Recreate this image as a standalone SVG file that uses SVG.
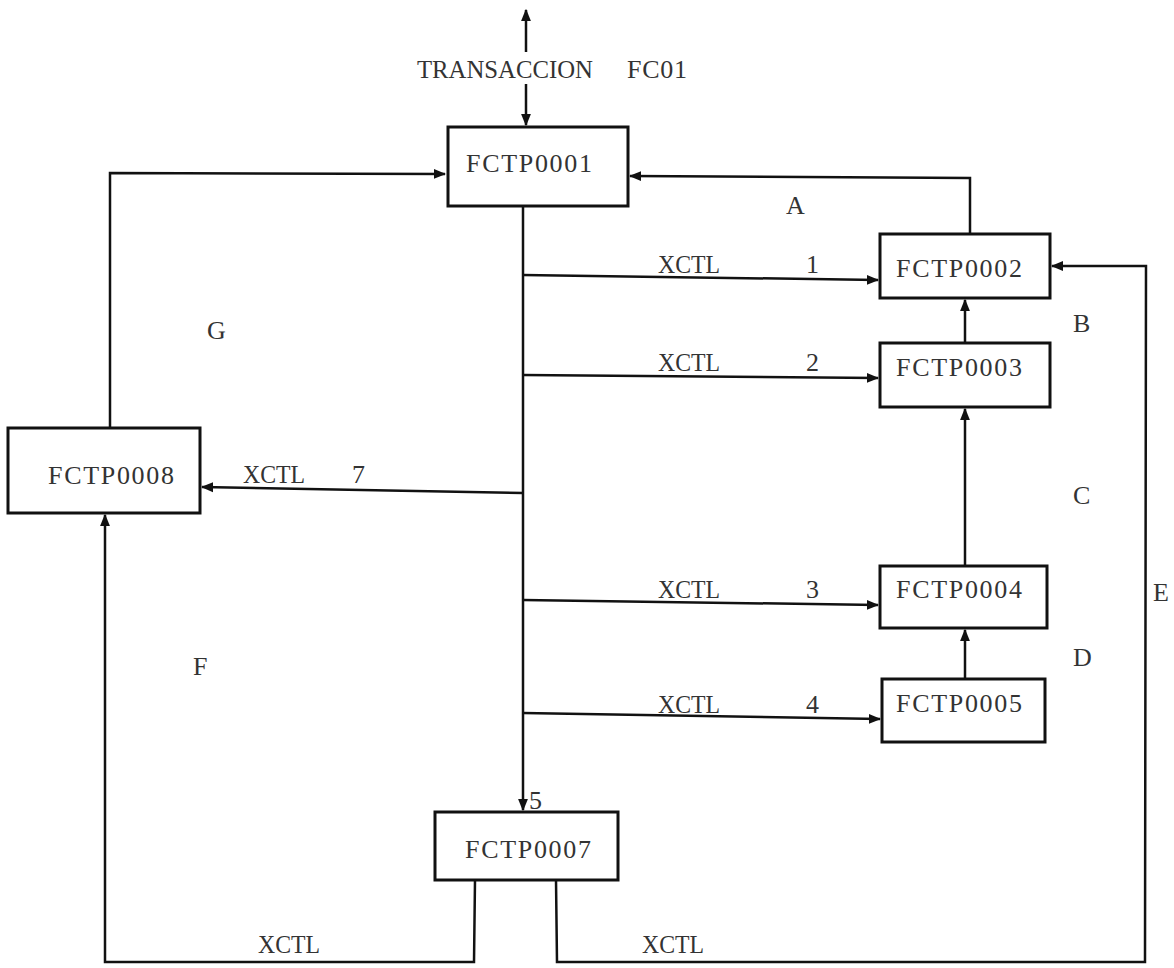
<svg xmlns="http://www.w3.org/2000/svg" width="1174" height="968" viewBox="0 0 1174 968">
<style>
text{font-family:"Liberation Serif","Times New Roman",serif;font-size:26px;fill:#333}
.x{font-size:25px}
.box{fill:#fff;stroke:#111;stroke-width:3}
.ln{fill:none;stroke:#111;stroke-width:2.5}
.arr{marker-end:url(#ah)}
</style>
<defs>
<marker id="ah" viewBox="0 0 10 10" refX="9" refY="5" markerWidth="5" markerHeight="5" orient="auto" markerUnits="strokeWidth">
<path d="M0,1 L10,5 L0,9 Z" fill="#111"/>
</marker>
</defs>
<rect width="1174" height="968" fill="#fff"/>
<g id="connectors">
<path class="ln arr" d="M526,52 L526,10"/>
<path class="ln arr" d="M526,84 L526,125"/>
<path class="ln arr" d="M523,207 L523,810"/>
<path class="ln arr" d="M523,275 L878,280"/>
<path class="ln arr" d="M523,375 L878,378"/>
<path class="ln arr" d="M523,493 L202,487"/>
<path class="ln arr" d="M523,600 L878,605"/>
<path class="ln arr" d="M523,713 L880,719"/>
<path class="ln arr" d="M970,234 L970,178 L630,176"/>
<path class="ln arr" d="M965,343 L965,300"/>
<path class="ln arr" d="M965,566 L965,409"/>
<path class="ln arr" d="M965,679 L965,630"/>
<path class="ln arr" d="M110,428 L110,173 L445,174"/>
<path class="ln arr" d="M475,880 L474,962 L105,962 L105,515"/>
<path class="ln arr" d="M556,880 L557,962 L1145,962 L1146,266 L1052,266"/>
</g>
<g id="n1"><rect class="box" x="448" y="127" width="180" height="79"/><text x="466" y="172" textLength="126" lengthAdjust="spacing">FCTP0001</text></g>
<g id="n2"><rect class="box" x="880" y="234" width="170" height="64"/><text x="896" y="277" textLength="126" lengthAdjust="spacing">FCTP0002</text></g>
<g id="n3"><rect class="box" x="880" y="343" width="170" height="64"/><text x="896" y="376" textLength="126" lengthAdjust="spacing">FCTP0003</text></g>
<g id="n4"><rect class="box" x="880" y="566" width="167" height="62"/><text x="896" y="598" textLength="126" lengthAdjust="spacing">FCTP0004</text></g>
<g id="n5"><rect class="box" x="882" y="679" width="163" height="63"/><text x="896" y="712" textLength="126" lengthAdjust="spacing">FCTP0005</text></g>
<g id="n7"><rect class="box" x="435" y="812" width="183" height="68"/><text x="465" y="858" textLength="126" lengthAdjust="spacing">FCTP0007</text></g>
<g id="n8"><rect class="box" x="8" y="428" width="192" height="85"/><text x="48" y="484" textLength="126" lengthAdjust="spacing">FCTP0008</text></g>
<g id="labels">
<text x="417" y="78" textLength="176" lengthAdjust="spacingAndGlyphs">TRANSACCION</text>
<text x="627" y="78" textLength="60" lengthAdjust="spacing">FC01</text>
<text x="786" y="214">A</text>
<text class="x" x="658" y="273" textLength="62" lengthAdjust="spacingAndGlyphs">XCTL</text><text x="806" y="273">1</text>
<text class="x" x="658" y="371" textLength="62" lengthAdjust="spacingAndGlyphs">XCTL</text><text x="806" y="371">2</text>
<text x="207" y="339">G</text>
<text x="1073" y="332">B</text>
<text class="x" x="243" y="483" textLength="62" lengthAdjust="spacingAndGlyphs">XCTL</text><text x="352" y="483">7</text>
<text x="1073" y="504">C</text>
<text class="x" x="658" y="598" textLength="62" lengthAdjust="spacingAndGlyphs">XCTL</text><text x="806" y="598">3</text>
<text x="193" y="675">F</text>
<text x="1073" y="666">D</text>
<text x="1153" y="601">E</text>
<text class="x" x="658" y="713" textLength="62" lengthAdjust="spacingAndGlyphs">XCTL</text><text x="806" y="713">4</text>
<text x="529" y="809">5</text>
<text class="x" x="258" y="953" textLength="62" lengthAdjust="spacingAndGlyphs">XCTL</text>
<text class="x" x="642" y="953" textLength="62" lengthAdjust="spacingAndGlyphs">XCTL</text>
</g>
</svg>
